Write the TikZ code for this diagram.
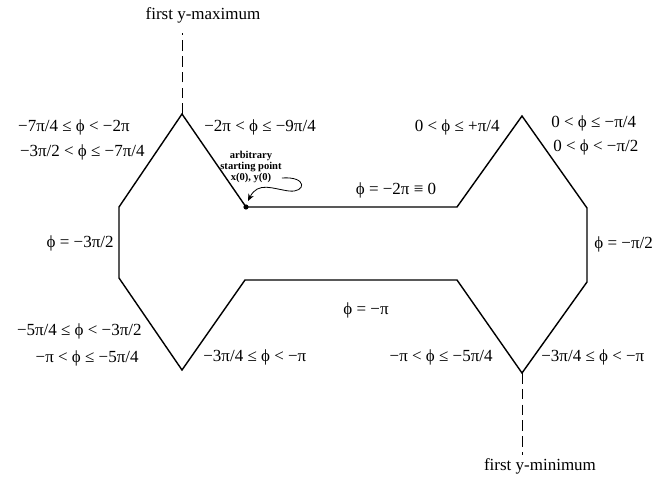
\documentclass[tikz,border=0pt]{standalone}
\usepackage{fontspec}
\setmainfont{Liberation Serif}
\usetikzlibrary{arrows.meta}

\begin{document}
\begin{tikzpicture}[
x=0.03cm, y=-0.03cm,
orbit/.style={line width=1.2pt, line join=miter},
guide/.style={line width=0.6pt, dash pattern=on 9pt off 4.5pt},
lbl/.style={inner sep=1pt, font=\fontsize{14.5}{16}\selectfont},
note/.style={inner sep=0pt, align=center, font=\fontsize{9}{9.5}\selectfont\bfseries},
curl/.style={-{Stealth[length=6pt,width=5pt]}, line width=0.7pt}
]
\useasboundingbox (0,0) rectangle (667,480);
\coordinate (start) at (246,207);
\coordinate (ymax) at (182,114);
\coordinate (lu) at (119,207);
\coordinate (ll) at (119,278);
\coordinate (lmin) at (182,370);
\coordinate (bl) at (245,280);
\coordinate (br) at (457,280);
\coordinate (ymin) at (522,373);
\coordinate (rl) at (587,282);
\coordinate (ru) at (587,208);
\coordinate (rmax) at (522,116);
\coordinate (tr) at (457,207);
\draw[orbit] (start) -- (ymax) -- (lu) -- (ll) -- (lmin) -- (bl) -- (br)
  -- (ymin) -- (rl) -- (ru) -- (rmax) -- (tr) -- cycle;
\fill (start) circle (2.6);

\node[lbl] (maxlbl) at (203,15) {first y-maximum};
\node[lbl] (minlbl) at (540,466) {first y-minimum};
\coordinate (maxend) at (182,33);
\coordinate (minend) at (522,455);
\draw[guide] (ymax) -- (maxend);
\draw[guide] (ymin) -- (minend);

\node[note] (startlbl) at (251,167) {arbitrary\\starting point\\x(0), y(0)};
\draw[curl] (startlbl.east |- 0,178) .. controls (308,176) and (306,193) .. (289,191)
  .. controls (273,189) and (258,181) .. (248,201);

\node[lbl, anchor=east] (a1) at (131,127) {−7π/4 ≤ ϕ < −2π};
\node[lbl, anchor=east] (a2) at (146,152) {−3π/2 < ϕ ≤ −7π/4};
\node[lbl, anchor=west] (a3) at (203,127) {−2π < ϕ ≤ −9π/4};
\node[lbl] (a4) at (396,190) {ϕ = −2π ≡ 0};
\node[lbl, anchor=east] (a5) at (501,127) {0 < ϕ ≤ +π/4};
\node[lbl, anchor=west] (a6) at (550,123) {0 < ϕ ≤ −π/4};
\node[lbl, anchor=west] (a7) at (552,147) {0 < ϕ < −π/2};
\node[lbl, anchor=east] (a8) at (115,243) {ϕ = −3π/2};
\node[lbl, anchor=west] (a9) at (593,244) {ϕ = −π/2};
\node[lbl] (a10) at (366,310) {ϕ = −π};
\node[lbl, anchor=east] (a11) at (143,331) {−5π/4 ≤ ϕ < −3π/2};
\node[lbl, anchor=east] (a12) at (140,358) {−π < ϕ ≤ −5π/4};
\node[lbl, anchor=west] (a13) at (202,357) {−3π/4 ≤ ϕ < −π};
\node[lbl, anchor=east] (a14) at (494,357) {−π < ϕ ≤ −5π/4};
\node[lbl, anchor=west] (a15) at (540,357) {−3π/4 ≤ ϕ < −π};
\end{tikzpicture}
\end{document}
